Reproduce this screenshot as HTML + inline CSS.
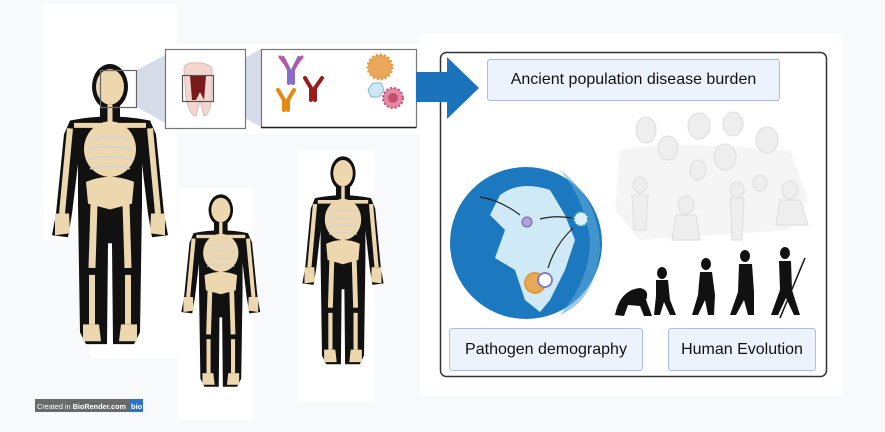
<!DOCTYPE html>
<html><head><meta charset="utf-8"><style>
html,body{margin:0;padding:0}
body{width:885px;height:432px;background:#f8f9fb;position:relative;overflow:hidden;font-family:"Liberation Sans",sans-serif}
.w{position:absolute;background:#fff}
.lbl{position:absolute;background:#edf3fc;border:1.5px solid #a9bde6;border-radius:3px;box-sizing:border-box;display:flex;align-items:center;justify-content:center;font-size:16px;color:#111}
</style></head><body>
<div class="w" style="left:43px;top:4px;width:134px;height:236px"></div>
<div class="w" style="left:90px;top:230px;width:88px;height:128px"></div>
<div class="w" style="left:178px;top:188px;width:75px;height:232px"></div>
<div class="w" style="left:297px;top:150px;width:78px;height:252px"></div>
<div class="w" style="left:420px;top:34px;width:423px;height:362px"></div>
<div class="w" style="left:165px;top:44px;width:255px;height:90px"></div>

<svg width="885" height="432" style="position:absolute;left:0;top:0">
<defs>
<g id="sk">
 <g fill="#111">
  <ellipse cx="60" cy="22" rx="18" ry="23"/>
  <rect x="50" y="38" width="20" height="20"/>
  <path d="M20 56 Q60 48 100 56 L106 70 L114 150 L118 172 L102 174 L98 150 L92 100 L92 140 L90 270 L84 282 L63 282 L62 180 L58 180 L57 282 L36 282 L30 270 L28 140 L28 100 L22 150 L18 174 L2 172 L6 150 L14 70 Z"/>
 </g>
 <g fill="#ecd7ae" stroke="#ecd7ae">
  <ellipse cx="60" cy="22" rx="14" ry="18" stroke="none"/>
  <ellipse cx="60" cy="85" rx="26" ry="28" stroke="none"/>
  <path d="M36 118 Q60 108 84 118 L82 140 L60 146 L38 140 Z" stroke="none"/>
  <line x1="60" y1="40" x2="60" y2="125" stroke-width="5"/>
  <line x1="24" y1="61" x2="96" y2="61" stroke-width="5"/>
  <line x1="20" y1="64" x2="12" y2="150" stroke-width="6"/>
  <line x1="100" y1="64" x2="108" y2="150" stroke-width="6"/>
  <path d="M5 150 L19 150 L20 170 L5 172 Z" stroke="none"/>
  <path d="M101 150 L115 150 L115 172 L100 170 Z" stroke="none"/>
  <line x1="44" y1="140" x2="42" y2="205" stroke-width="7"/>
  <line x1="76" y1="140" x2="78" y2="205" stroke-width="7"/>
  <line x1="42" y1="212" x2="42" y2="262" stroke-width="6"/>
  <line x1="78" y1="212" x2="78" y2="262" stroke-width="6"/>
  <path d="M33 262 L49 262 L51 279 L33 279 Z" stroke="none"/>
  <path d="M71 262 L87 262 L87 279 L69 279 Z" stroke="none"/>
 </g>
 <g stroke="#cfd3dd" stroke-width="1.5" fill="none">
  <path d="M40 75 Q60 70 80 75 M38 85 Q60 80 82 85 M38 95 Q60 90 82 95 M40 105 Q60 100 80 105"/>
 </g>
</g>
</defs>
<use href="#sk" transform="translate(50,65) scale(1,0.99)"/>
<use href="#sk" transform="translate(180,195) scale(0.68)"/>
<use href="#sk" transform="translate(301,157) scale(0.70,0.735)"/>

<polygon points="137,70 165,55 165,123 137,107" fill="#d7dde8"/>
<polygon points="213,75 261,49 261,127 213,101" fill="#d7dde8"/>
<rect x="100.5" y="70.5" width="36" height="37" fill="none" stroke="#666" stroke-width="1.2"/>
<rect x="165.5" y="49.5" width="80" height="79" fill="#fff" stroke="#777" stroke-width="1.2"/>
<path d="M184 68 Q186 62 196 63 Q206 62 212 68 L212 96 Q210 115 204 116 L200 100 L196 116 Q190 116 186 98 Z" fill="#f4d6d0" stroke="#e0b8b0"/>
<path d="M190 76 L206 76 L204 100 L200 92 L196 100 L192 100 Z" fill="#7a1b1b"/>
<rect x="182.5" y="75.5" width="31" height="26" fill="none" stroke="#555" stroke-width="1.2"/>
<rect x="261.5" y="49.5" width="155" height="78" fill="#fff" stroke="#777" stroke-width="1.2"/>
<line x1="261" y1="127.5" x2="416" y2="127.5" stroke="#222" stroke-width="1.5"/>
<g stroke-width="4" fill="none" stroke-linecap="round">
 <path d="M289 83 L289 70 L283 58 M293 83 L293 70 L299 58" stroke="#8a6cc8"/>
 <path d="M287 66 L280 57 M295 66 L302 57" stroke="#c050a0" stroke-width="3"/>
 <path d="M284 110 L284 100 L278 90 M288 110 L288 100 L294 90" stroke="#e38a10"/>
 <path d="M311 100 L311 88 L305 78 M315 100 L315 88 L322 78" stroke="#9b1b1b"/>
</g>
<circle cx="380" cy="67" r="12" fill="#e9a85a" stroke="#e49b40" stroke-dasharray="2 2" stroke-width="3"/>
<polygon points="368,90 373,83 381,83 384,90 379,97 371,97" fill="#cde7f4" stroke="#7ab8da"/>
<circle cx="393" cy="98" r="10" fill="#e48aa5" stroke="#c2506d" stroke-dasharray="2 2" stroke-width="2"/>
<circle cx="393" cy="98" r="5" fill="#c2506d"/>

<rect x="440.5" y="52.5" width="386" height="324" rx="6" fill="#fff" stroke="#333" stroke-width="1.5"/>

<polygon points="416,72 447,72 447,57 479,88 447,119 447,102 416,102" fill="#1b74bb"/>

<g fill="#eeeeee" stroke="#dddddd">
 <path d="M620 150 Q660 140 790 150 L808 200 L790 230 L640 240 L615 210 Z" fill="#f5f5f5" stroke="none"/>
 <ellipse cx="646" cy="130" rx="10" ry="13"/><ellipse cx="699" cy="126" rx="11" ry="13"/><ellipse cx="733" cy="124" rx="10" ry="12"/><ellipse cx="767" cy="140" rx="11" ry="13"/>
 <ellipse cx="668" cy="148" rx="10" ry="12"/><ellipse cx="725" cy="157" rx="11" ry="13"/><ellipse cx="698" cy="170" rx="8" ry="10"/>
 <ellipse cx="640" cy="185" rx="7" ry="8"/><ellipse cx="686" cy="205" rx="8" ry="9"/><ellipse cx="737" cy="190" rx="7" ry="8"/><ellipse cx="760" cy="183" rx="7" ry="8"/><ellipse cx="790" cy="190" rx="8" ry="9"/>
 <path d="M632 195 L648 195 L646 230 L634 230 Z M676 215 L696 215 L700 240 L672 240 Z M730 198 L744 198 L742 240 L732 240 Z M780 200 L800 200 L808 225 L776 225 Z"/>
</g>

<g fill="#111">
 <path d="M615 315 Q620 290 640 288 Q650 290 646 300 L652 316 L644 316 L640 306 L628 305 L624 316 Z"/>
 <ellipse cx="662" cy="273" rx="5" ry="6"/><path d="M656 280 L668 280 L670 300 L676 315 L670 315 L664 302 L660 315 L654 315 L656 296 Z"/>
 <ellipse cx="706" cy="264" rx="5" ry="6"/><path d="M700 272 L712 272 L715 295 L714 315 L708 315 L705 300 L698 315 L692 315 L698 295 Z"/>
 <ellipse cx="745" cy="256" rx="5" ry="6"/><path d="M739 264 L752 264 L754 292 L754 315 L748 315 L744 300 L736 315 L730 315 L738 292 Z"/>
 <ellipse cx="785" cy="253" rx="5" ry="6"/><path d="M779 261 L791 261 L792 290 L800 315 L794 315 L786 298 L778 315 L771 315 L780 290 Z"/>
 <line x1="805" y1="258" x2="780" y2="318" stroke="#111" stroke-width="1.5"/>
</g>

<circle cx="526" cy="243" r="76" fill="#1c78bf"/>
<path d="M500 195 Q520 180 550 190 L565 215 L575 240 L565 270 L550 300 L540 312 L525 300 L515 270 L495 258 L505 230 L490 215 Z" fill="#cfeaf6"/>
<path d="M560 170 Q600 200 600 250 Q595 300 560 315 Q590 280 590 240 Q585 200 560 170 Z" fill="#5aa6d6" opacity=".6"/>
<circle cx="535" cy="283" r="10" fill="#e6a95a" stroke="#e09a3a" stroke-width="2"/>
<circle cx="545" cy="280" r="7" fill="#fff" stroke="#8080c0" stroke-width="2"/>
<circle cx="581" cy="219" r="7" fill="#dff0f6" stroke="#3a9ab8" stroke-width="2" stroke-dasharray="2 1.5"/>
<circle cx="527" cy="222" r="5" fill="#b0a0d8" stroke="#7060a8"/>
<g stroke="#222" fill="none" stroke-width="1.2">
 <path d="M520 215 Q500 200 480 197"/><path d="M572 218 Q555 215 540 219"/><path d="M548 268 Q555 245 573 228"/>
</g>

<rect x="35" y="399" width="95" height="13" fill="#6a6a6a"/>
<rect x="129" y="399" width="14" height="13" fill="#2a73c8"/>
<text x="37" y="409" font-size="7.5" fill="#fff" font-family="Liberation Sans, sans-serif" textLength="89" lengthAdjust="spacingAndGlyphs">Created in <tspan font-weight="bold">BioRender.com</tspan></text>
<text x="131" y="409" font-size="7.5" fill="#fff" font-weight="bold" font-family="Liberation Sans, sans-serif">bio</text>
</svg>

<div class="lbl" style="left:487px;top:59px;width:293px;height:42px">Ancient population disease burden</div>
<div class="lbl" style="left:449px;top:328px;width:194px;height:43px">Pathogen demography</div>
<div class="lbl" style="left:668px;top:328px;width:148px;height:43px">Human Evolution</div>
</body></html>
